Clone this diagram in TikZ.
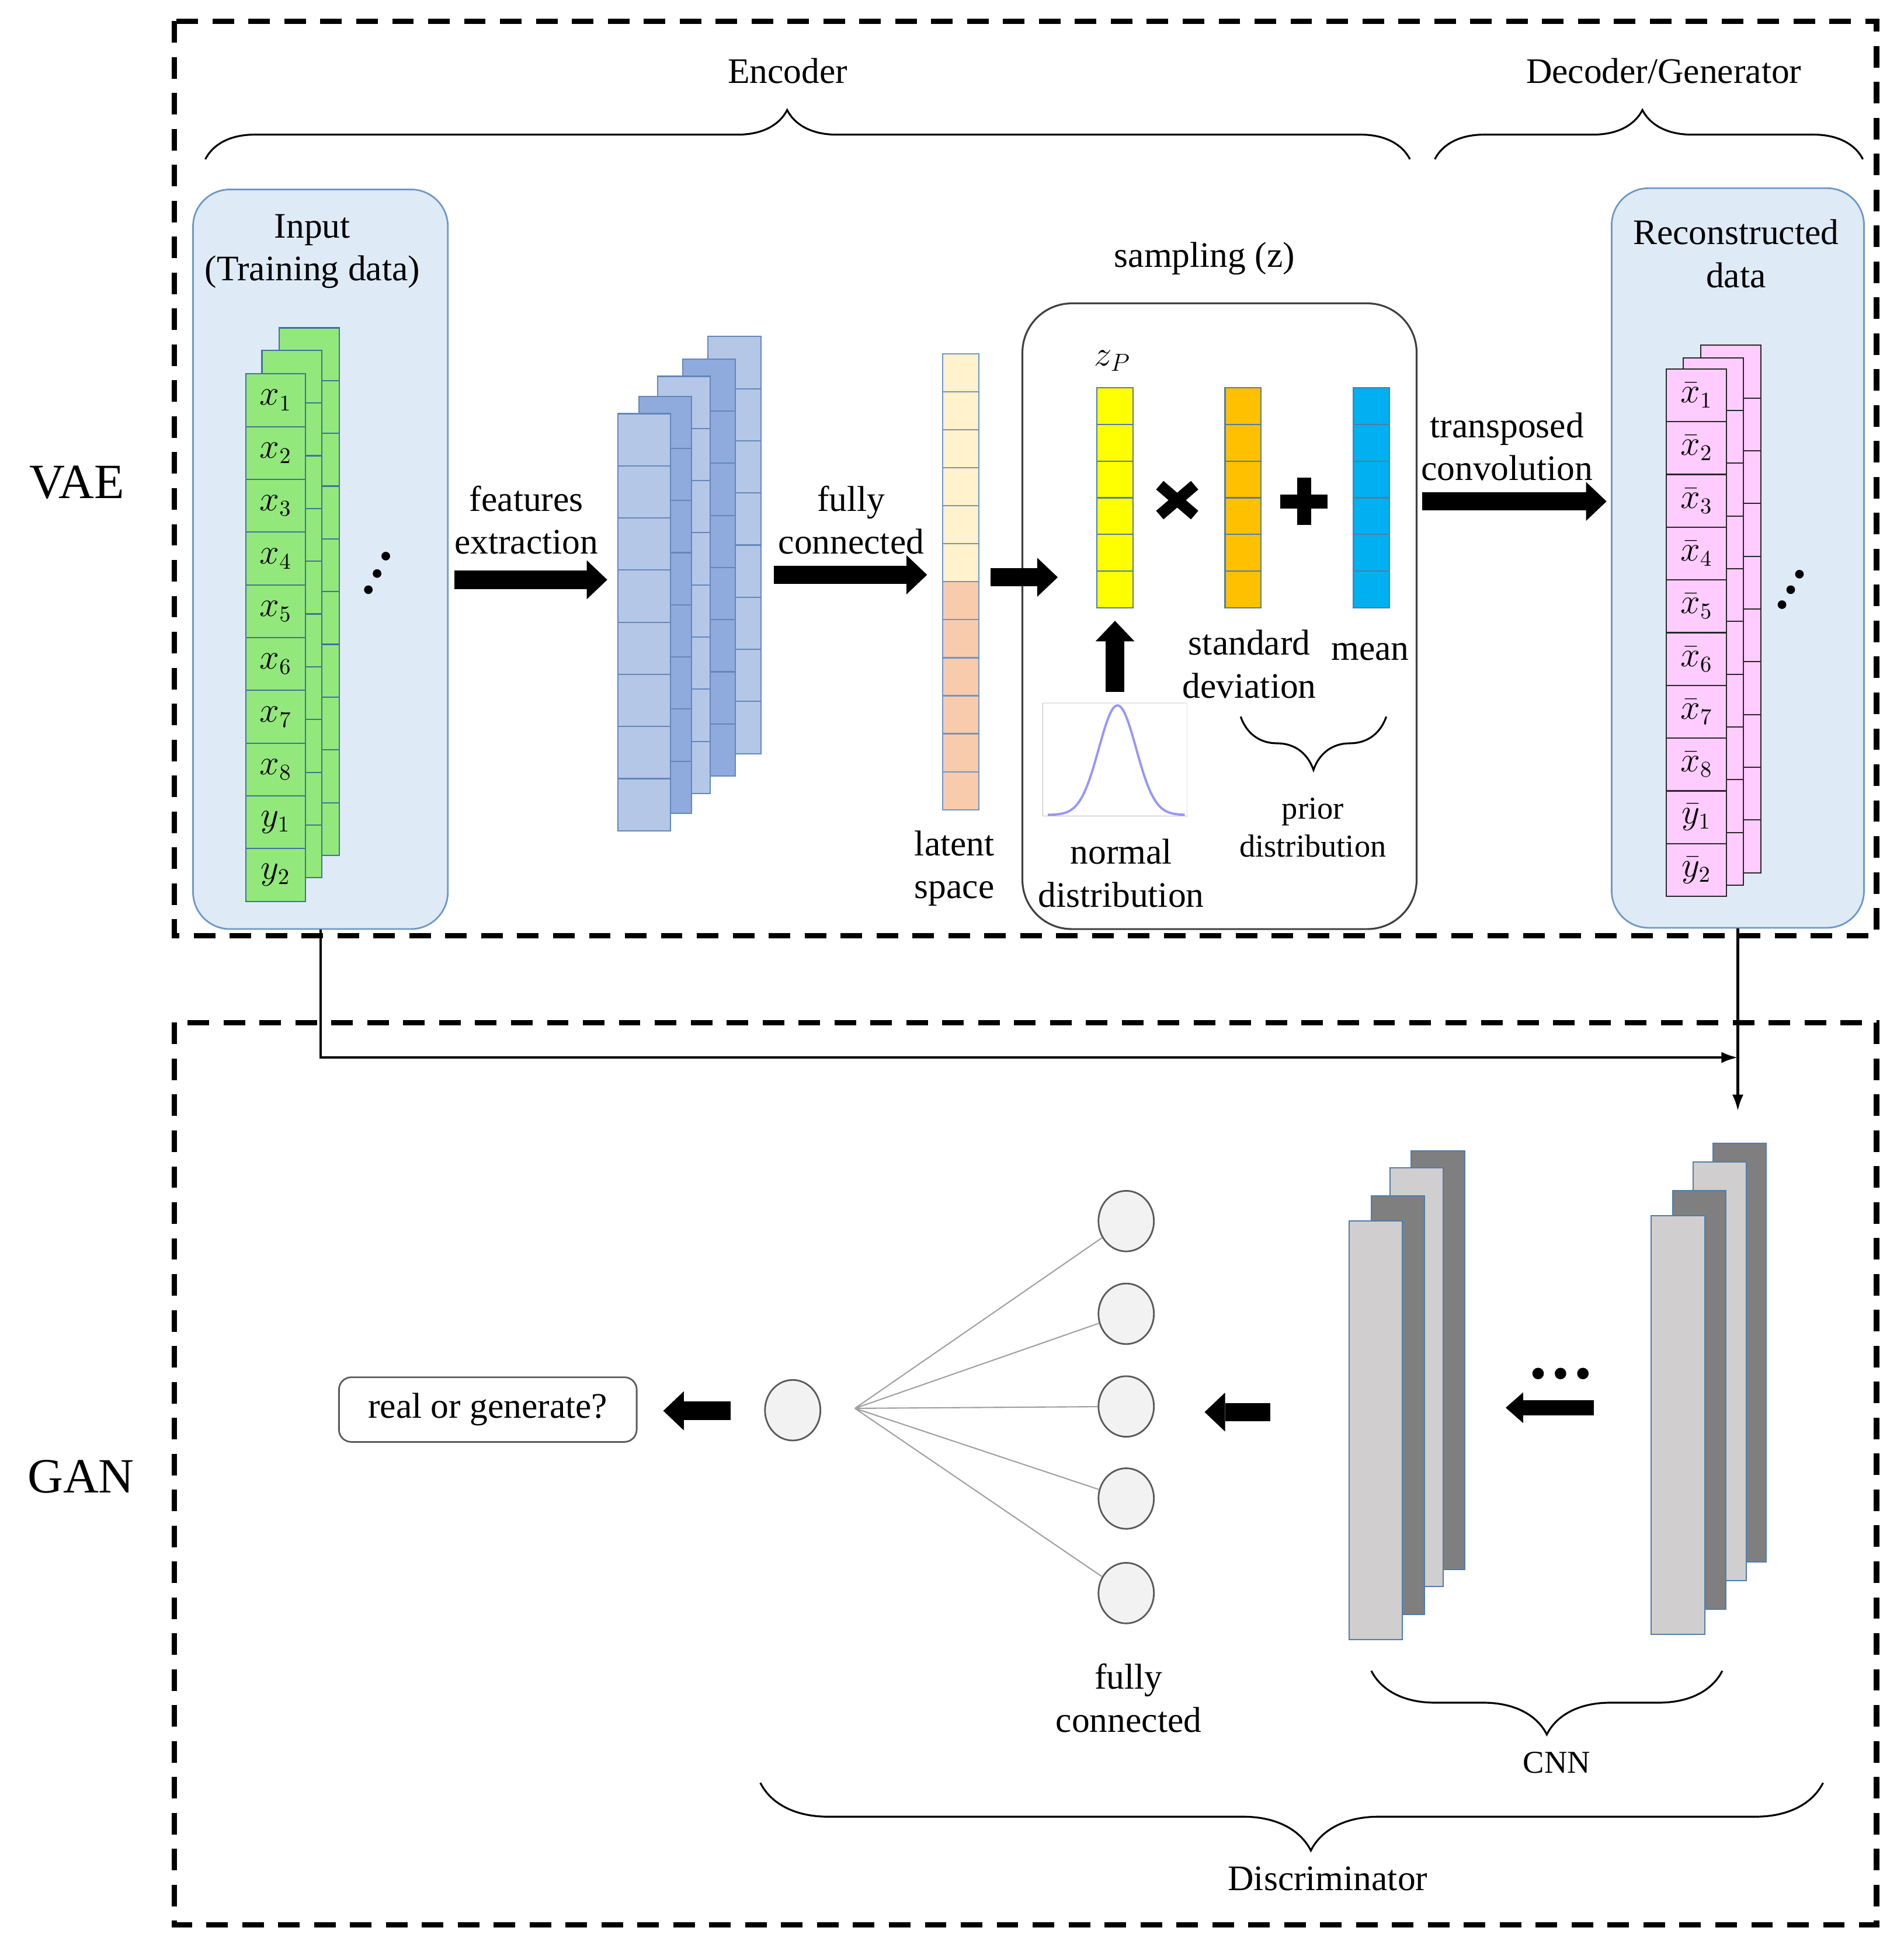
\documentclass[tikz,border=0pt]{standalone}
\usepackage{amsmath}
\usepackage{fontspec}
\setmainfont{Liberation Serif}
\usepackage{tikz}
\usetikzlibrary{calc}
\usetikzlibrary{arrows.meta,shapes.geometric,decorations.pathreplacing}
\usetikzlibrary{matrix,positioning}
\definecolor{datagreen}{RGB}{146,232,122}
\definecolor{cellline}{RGB}{65,113,156}
\definecolor{mapblue}{RGB}{180,199,231}
\definecolor{mapdark}{RGB}{143,170,220}
\definecolor{mapline}{RGB}{100,135,185}
\definecolor{latcream}{RGB}{255,242,204}
\definecolor{latpeach}{RGB}{248,203,173}
\definecolor{latline}{RGB}{110,150,195}
\definecolor{zyellow}{RGB}{255,255,0}
\definecolor{sdorange}{RGB}{255,192,0}
\definecolor{mucyan}{RGB}{0,176,240}
\definecolor{zline}{RGB}{80,125,165}
\definecolor{recpink}{RGB}{255,204,255}
\definecolor{recline}{RGB}{40,40,40}
\definecolor{boxfill}{RGB}{222,235,247}
\definecolor{boxline}{RGB}{110,152,198}
\definecolor{sampline}{RGB}{64,64,64}
\definecolor{slablight}{RGB}{208,206,206}
\definecolor{slabdark}{RGB}{127,127,127}
\definecolor{slabline}{RGB}{80,125,170}
\definecolor{neuronfill}{RGB}{242,242,242}
\definecolor{neuronline}{RGB}{89,89,89}
\definecolor{fangray}{RGB}{160,160,160}
\definecolor{curveblue}{RGB}{150,150,250}
\definecolor{boxgray}{RGB}{90,90,90}

\begin{document}
\begin{tikzpicture}
    [x=0.0213cm, y=-0.0213cm,
    lbl/.style={font=\fontsize{17.5}{21}\selectfont, align=center, inner sep=0pt},
    smalllbl/.style={font=\fontsize{15.5}{18.5}\selectfont, align=center, inner sep=0pt},
    biglbl/.style={font=\fontsize{24}{28}\selectfont, inner sep=0pt},
    layer/.style={matrix of math nodes, nodes in empty cells, row sep=-0.6pt, inner sep=0pt, outer sep=0pt, anchor=north west},
    cellbox/.style={draw=#1, line width=0.6pt, inner sep=0pt, outer sep=0pt, anchor=center, font=\fontsize{16}{16}\selectfont},
    datacell/.style={cellbox=cellline, minimum width=29.1pt, minimum height=25.7pt},
    mapcell/.style={cellbox=mapline, minimum width=25.7pt, minimum height=25.4pt},
    latcell/.style={cellbox=latline, minimum width=17.6pt, minimum height=18.5pt},
    zcell/.style={cellbox=zline, minimum width=17.6pt, minimum height=17.9pt},
    reccell/.style={cellbox=recline, minimum width=29.4pt, minimum height=25.7pt},
    databox/.style={draw=boxline, fill=boxfill, line width=0.8pt, rounded corners=18pt, inner sep=0pt},
    sampbox/.style={draw=sampline, line width=0.9pt, rounded corners=24pt, inner sep=0pt},
    slab/.style={draw=slabline, line width=0.6pt, inner sep=0pt, outer sep=0pt, anchor=north west, minimum width=26pt, minimum height=204pt},
    neuron/.style={ellipse, draw=neuronline, fill=neuronfill, line width=0.8pt, inner sep=0pt, minimum width=27pt, minimum height=29.5pt},
    fanline/.style={draw=fangray, line width=0.6pt},
    normcurve/.style={draw=curveblue, line width=1.1pt},
    bigarrow/.style={line width=9pt, -{Triangle[length=10pt, width=19pt, line width=0pt]}},
    smallarrow/.style={line width=7.6pt, -{Triangle[length=8.5pt, width=15pt, line width=0pt]}},
    link/.style={line width=1.2pt, -{Latex[length=8pt, width=5.5pt]}},
    dashbox/.style={line width=2.6pt, dash pattern=on 10.5pt off 7pt},
    grpbrace/.style={decorate, decoration={brace, amplitude=#1}, line width=0.9pt}]
  \useasboundingbox (0,0) rectangle (1530,1569);

  % the two parts
  \draw[dashbox] (140,17) rectangle (1508,752);
  \draw[dashbox] (140,822) rectangle (1508,1547);
  \node[biglbl] (vae) at (62,388) {VAE};
  \node[biglbl] (gan) at (65,1187) {GAN};

  \node[lbl] (enc) at (633,57) {Encoder};
  \draw[grpbrace=24pt, decoration={aspect=0.483}] (165,128) -- (1133,128);
  \node[lbl] (dec) at (1337,57) {Decoder/Generator};
  \draw[grpbrace=24pt, decoration={aspect=0.485}] (1153,128) -- (1497,128);

  % input data
  \node[databox, minimum width=124.1pt, minimum height=360.3pt] (inbox) at (257.5,449.5) {};
  \node[lbl] (intxt) at (251,202) {Input\\(Training data)};
  \matrix (in3) [layer, nodes={datacell, fill=datagreen}] at (224,263) {\\ \\ \\ \\ \\ \\ \\ \\ \\ \\};
  \matrix (in2) [layer, nodes={datacell, fill=datagreen}] at (210,281) {\\ \\ \\ \\ \\ \\ \\ \\ \\ \\};
  \matrix (in1) [layer, nodes={datacell, fill=datagreen}] at (197,300) {
    x_1 \\ x_2 \\ x_3 \\ x_4 \\ x_5 \\ x_6 \\ x_7 \\ x_8 \\ y_1 \\ y_2 \\
  };
  \fill (296,474) circle (2.1pt) (303,461) circle (2.1pt) (310,447) circle (2.1pt);

  \coordinate (feat1) at (365,466);
  \coordinate (feat2) at (488,466);
  \draw[bigarrow] (feat1) -- (feat2);
  \node[lbl] (feattxt) at (423,418) {features\\extraction};

  % feature maps
  \matrix (fm5) [layer, nodes={mapcell, fill=mapblue}] at (568.5,270) {\\ \\ \\ \\ \\ \\ \\ \\};
  \matrix (fm4) [layer, nodes={mapcell, fill=mapdark}] at (548,288) {\\ \\ \\ \\ \\ \\ \\ \\};
  \matrix (fm3) [layer, nodes={mapcell, fill=mapblue}] at (528,302) {\\ \\ \\ \\ \\ \\ \\ \\};
  \matrix (fm2) [layer, nodes={mapcell, fill=mapdark}] at (513,318) {\\ \\ \\ \\ \\ \\ \\ \\};
  \matrix (fm1) [layer, nodes={mapcell, fill=mapblue}] at (496,332) {\\ \\ \\ \\ \\ \\ \\ \\};

  \coordinate (fc1) at (622,462);
  \coordinate (fc2) at (745,462);
  \draw[bigarrow] (fc1) -- (fc2);
  \node[lbl] (fctxt) at (684,418) {fully\\connected};

  % latent space
  \matrix (lat1) [layer, nodes={latcell, fill=latcream}] at (757,284) {\\ \\ \\ \\ \\ \\};
  \matrix (lat2) [layer, nodes={latcell, fill=latpeach}, below=-0.6pt of lat1] {\\ \\ \\ \\ \\ \\};
  \node[lbl] (lattxt) at (767,698) {latent\\space};

  % sampling
  \node[sampbox, minimum width=192pt, minimum height=304.8pt] (samp) at (980,495.3) {};
  \node[lbl] (samptxt) at (968,208) {sampling (z)};
  \coordinate (sa1) at (796,464);
  \coordinate (sa2) at (850,464);
  \draw[bigarrow] (sa1) -- (sa2);

  \matrix (zp) [layer, nodes={zcell, fill=zyellow}] at (881,311) {\\ \\ \\ \\ \\ \\};
  \matrix (sd) [layer, nodes={zcell, fill=sdorange}, right=44.2pt of zp] {\\ \\ \\ \\ \\ \\};
  \matrix (mu) [layer, nodes={zcell, fill=mucyan}, right=44.2pt of sd] {\\ \\ \\ \\ \\ \\};
  \node[lbl] (zptxt) at (894,290) {$z_P$};
  \draw[line width=5.5pt] (932,390) -- (960,414) (932,414) -- (960,390);
  \draw[line width=6.8pt] (1029,403) -- (1067,403) (1048,384) -- (1048,422);
  \node[lbl] (sdtxt) at (1004,534) {standard\\deviation};
  \node[lbl] (mutxt) at (1101,524) {mean};
  \draw[grpbrace=26pt] (1114,576) -- (997,576);
  \node[smalllbl] (priortxt) at (1055,665) {prior\\distribution};

  \coordinate (nd1) at (896,556);
  \coordinate (nd2) at (896,499);
  \draw[bigarrow] (nd1) -- (nd2);
  \draw[gray!20, line width=0.4pt] (838,565) -- (954,565) -- (954,658);
  \draw[gray!55, line width=0.4pt] (838,565) -- (838,656) -- (954,656);
  \draw[normcurve] plot[domain=842:952, samples=90, smooth] (\x, {655-88*exp(-0.5*((\x-898)/15)^2)});
  \node[lbl] (ndtxt) at (901,702) {normal\\distribution};

  \coordinate (tc1) at (1143,403);
  \coordinate (tc2) at (1291,403);
  \draw[bigarrow] (tc1) -- (tc2);
  \node[lbl] (tctxt) at (1211,359) {transposed\\convolution};

  % reconstructed data
  \node[databox, minimum width=122.9pt, minimum height=360.3pt] (recbox) at (1396.5,448.5) {};
  \node[lbl] (rectxt) at (1395,204) {Reconstructed\\data};
  \matrix (rc3) [layer, nodes={reccell, fill=recpink}] at (1366,277) {\\ \\ \\ \\ \\ \\ \\ \\ \\ \\};
  \matrix (rc2) [layer, nodes={reccell, fill=recpink}] at (1352,287) {\\ \\ \\ \\ \\ \\ \\ \\ \\ \\};
  \matrix (rc1) [layer, nodes={reccell, fill=recpink}] at (1338.5,296) {
    \bar{x}_1 \\ \bar{x}_2 \\ \bar{x}_3 \\ \bar{x}_4 \\ \bar{x}_5 \\ \bar{x}_6 \\ \bar{x}_7 \\ \bar{x}_8 \\ \bar{y}_1 \\ \bar{y}_2 \\
  };
  \fill (1432,486) circle (2.1pt) (1439,474) circle (2.1pt) (1446,461.5) circle (2.1pt);

  % from VAE to GAN
  \coordinate (join) at (recbox.south |- 0,850);
  \coordinate (cnnin) at (recbox.south |- 0,893);
  \draw[link] (inbox.south) |- (join);
  \draw[link] (recbox.south) -- (cnnin);

  % discriminator
  \node[slab, fill=slabdark] (ca4) at (1134,925) {};
  \node[slab, fill=slablight] (ca3) at (1117,938.5) {};
  \node[slab, fill=slabdark] (ca2) at (1102,961) {};
  \node[slab, fill=slablight] (ca1) at (1084,981.5) {};
  \node[slab, fill=slabdark] (cb4) at (1376.5,919) {};
  \node[slab, fill=slablight] (cb3) at (1360.5,934) {};
  \node[slab, fill=slabdark] (cb2) at (1344,957) {};
  \node[slab, fill=slablight] (cb1) at (1327,977) {};
  \fill (1236,1104) circle (2.8pt) (1254,1104) circle (2.8pt) (1272,1104) circle (2.8pt);
  \coordinate (cd1) at (1281,1131.5);
  \coordinate (cd2) at (1210,1131.5);
  \draw[smallarrow] (cd1) -- (cd2);
  \draw[grpbrace=31pt] (1384,1343) -- (1102,1343);
  \node[smalllbl] (cnntxt) at (1251,1417) {CNN};

  \coordinate (ga1) at (1021,1135);
  \coordinate (ga2) at (968,1135);
  \draw[bigarrow] (ga1) -- (ga2);
  \node[neuron] (n1) at (905,981.5) {};
  \node[neuron] (n2) at (905,1056) {};
  \node[neuron] (n3) at (905,1130.5) {};
  \node[neuron] (n4) at (905,1204.5) {};
  \node[neuron] (n5) at (905,1280.5) {};
  \node[neuron] (out) at (637,1133.5) {};
  \coordinate (fan) at (687,1132);
  \draw[fanline] (fan) -- (n1) (fan) -- (n2) (fan) -- (n3) (fan) -- (n4) (fan) -- (n5);
  \node[lbl] (fc2txt) at (907,1365) {fully\\connected};

  \coordinate (oa1) at (587,1134);
  \coordinate (oa2) at (533,1134);
  \draw[bigarrow] (oa1) -- (oa2);
  \node[lbl, draw=boxgray, rounded corners=6pt, line width=0.8pt, minimum width=145pt, minimum height=31.5pt] (rog) at (392,1133) {real or generate?};
  \draw[grpbrace=33pt, decoration={aspect=0.482}] (1465,1433) -- (611,1433);
  \node[lbl] (disctxt) at (1067,1510) {Discriminator};
\end{tikzpicture}
\end{document}
